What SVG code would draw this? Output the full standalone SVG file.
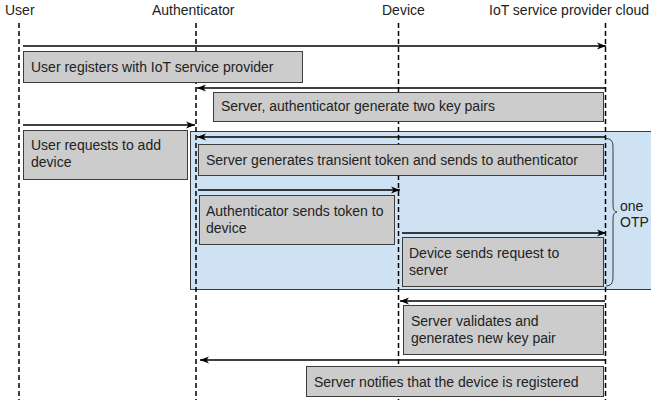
<svg xmlns="http://www.w3.org/2000/svg" width="651" height="405" viewBox="0 0 651 405">
<style>
text{font-family:"Liberation Sans",Arial,sans-serif;font-size:14px;fill:#222}
.life{stroke:#000;stroke-width:1.5;stroke-dasharray:5 3;fill:none}
.box{fill:#cccccc;stroke:#3c3c3c;stroke-width:1}
.msg{stroke:#000;stroke-width:1.5;fill:none;marker-end:url(#ah)}
.region{fill:#cfe2f3;stroke:#3c3c3c;stroke-width:1}
.brace{fill:none;stroke:#3c3c3c;stroke-width:1}
</style>
<defs>
<marker id="ah" markerUnits="userSpaceOnUse" markerWidth="10" markerHeight="8" refX="9" refY="4" orient="auto">
<path d="M0,0.5 L9,4 L0,7.5 L2.5,4 z" fill="#000"/>
</marker>
</defs>
<rect width="651" height="405" fill="#fff"/>
<g id="otp-region">
<rect class="region" x="190.5" y="131.5" width="470" height="158"/>
<path class="brace" d="M606,138.5 Q613,138.5 613,146 L613,205 Q613,212 617,212 Q613,212 613,219 L613,278 Q613,286 606,286"/>
<text x="620" y="211">one</text>
<text x="620" y="227">OTP</text>
</g>
<g id="lifelines">
<g id="user"><text x="5" y="15">User</text><line class="life" x1="19" y1="23" x2="19" y2="400"/></g>
<g id="authenticator"><text x="152" y="15">Authenticator</text><line class="life" x1="196" y1="23" x2="196" y2="400"/></g>
<g id="device"><text x="382" y="15">Device</text><line class="life" x1="398.5" y1="23" x2="398.5" y2="400"/></g>
<g id="cloud"><text x="489" y="15">IoT service provider cloud</text><line class="life" x1="605.5" y1="23" x2="605.5" y2="400"/></g>
</g>
<g id="step1"><rect class="box" x="23.5" y="51.5" width="279" height="31"/><text x="31" y="72">User registers with IoT service provider</text></g>
<g id="step2"><rect class="box" x="213.5" y="92.5" width="390" height="29"/><text x="221" y="111">Server, authenticator generate two key pairs</text></g>
<g id="step3"><rect class="box" x="23.5" y="130.5" width="164" height="49"/><text x="31" y="150">User requests to add</text><text x="31" y="167">device</text></g>
<g id="step4"><rect class="box" x="198.5" y="144.5" width="405" height="31"/><text x="206" y="165">Server generates transient token and sends to authenticator</text></g>
<g id="step5"><rect class="box" x="199.5" y="195.5" width="195" height="49"/><text x="206" y="216">Authenticator sends token to</text><text x="206" y="233">device</text></g>
<g id="step6"><rect class="box" x="402.5" y="237.5" width="201" height="49"/><text x="409" y="258">Device sends request to</text><text x="409" y="275">server</text></g>
<g id="step7"><rect class="box" x="403.5" y="305.5" width="200" height="49"/><text x="411" y="326">Server validates and</text><text x="411" y="343">generates new key pair</text></g>
<g id="step8"><rect class="box" x="306.5" y="366.5" width="297" height="30"/><text x="314" y="387">Server notifies that the device is registered</text></g>
<g id="connectors">
<line class="msg" x1="23" y1="46" x2="606" y2="46"/>
<line class="msg" x1="605" y1="88" x2="197" y2="88"/>
<line class="msg" x1="23" y1="125" x2="195" y2="125"/>
<line class="msg" x1="605" y1="137" x2="197" y2="137"/>
<line class="msg" x1="198" y1="190" x2="400" y2="190"/>
<line class="msg" x1="402" y1="233" x2="606" y2="233"/>
<line class="msg" x1="605" y1="301" x2="400" y2="301"/>
<line class="msg" x1="605" y1="360" x2="200" y2="360"/>
</g>
</svg>
